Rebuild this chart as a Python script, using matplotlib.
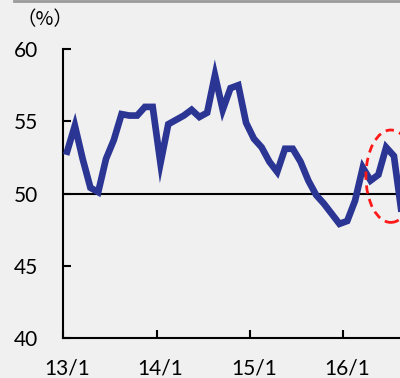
import matplotlib
matplotlib.use("Agg")
import matplotlib.pyplot as plt
from matplotlib.patches import Ellipse
import numpy as np

# monthly index values, 2013/1 onward
values = [52.9, 54.7, 52.4, 50.4, 50.1, 52.4, 53.7, 55.5, 55.4, 55.4,
          56.0, 56.0, 52.1, 54.8, 55.1, 55.4, 55.8, 55.3, 55.6, 58.2,
          55.8, 57.3, 57.5, 54.9, 53.8, 53.2, 52.2, 51.5, 53.1, 53.1,
          52.2, 50.9, 49.9, 49.3, 48.6, 47.9, 48.1, 49.5, 51.8, 50.9,
          51.3, 53.2, 52.6, 48.6]
tick_labels = ["13/1", "14/1", "15/1", "16/1"]
y_ticks = [40, 45, 50, 55, 60]

bg = "#f0f0f0"
blue = "#2b3594"

fig = plt.figure(figsize=(4.0, 3.78), dpi=100, facecolor=bg)
ax = fig.add_axes([0.158, 0.106, 0.842, 0.764])
ax.set_facecolor(bg)

# points sit in the middle of each month
x = np.arange(len(values)) + 0.5
ax.plot(x, values, color=blue, lw=4.8, solid_joinstyle="miter", zorder=3)
ax.axhline(50, color="black", lw=1.5, zorder=2)

# highlight the latest months
ax.add_patch(Ellipse((42.1, 51.2), 6.4, 6.4, fill=False, ec="#ff1a1a",
                     lw=2.0, ls=(0, (3, 2)), zorder=4, clip_on=False))

ax.set_xlim(0, 43.28)
ax.set_ylim(40, 60)

for side in ["top", "right"]:
    ax.spines[side].set_visible(False)
for side in ["left", "bottom"]:
    ax.spines[side].set_linewidth(1.5)
    ax.spines[side].set_color("black")

font = "Lato"
ax.set_yticks(y_ticks)
ax.set_yticklabels([str(v) for v in y_ticks], fontsize=15, family=font)
ax.tick_params(axis="y", direction="in", length=6, width=1.5, pad=18)

ax.set_xticks([0, 12, 24, 36])
ax.set_xticklabels([])
ax.set_xticks([0.5, 12.5, 24.5, 36.5], minor=True)
ax.set_xticklabels(tick_labels, minor=True, fontsize=15, family=font)
ax.tick_params(axis="x", which="major", direction="in", length=6, width=1.5)
ax.tick_params(axis="x", which="minor", length=0, pad=15)

fig.text(0.112, 0.948, "（%）", fontsize=14, family=["Noto Sans CJK JP", "DejaVu Sans"],
         ha="center", va="center")

# thin grey rule along the top
fig.add_artist(plt.Line2D([0.035, 1.0], [0.998, 0.998], color="#9a9a9a", lw=2.0))

fig.savefig("out.png", dpi=100, facecolor=bg)
